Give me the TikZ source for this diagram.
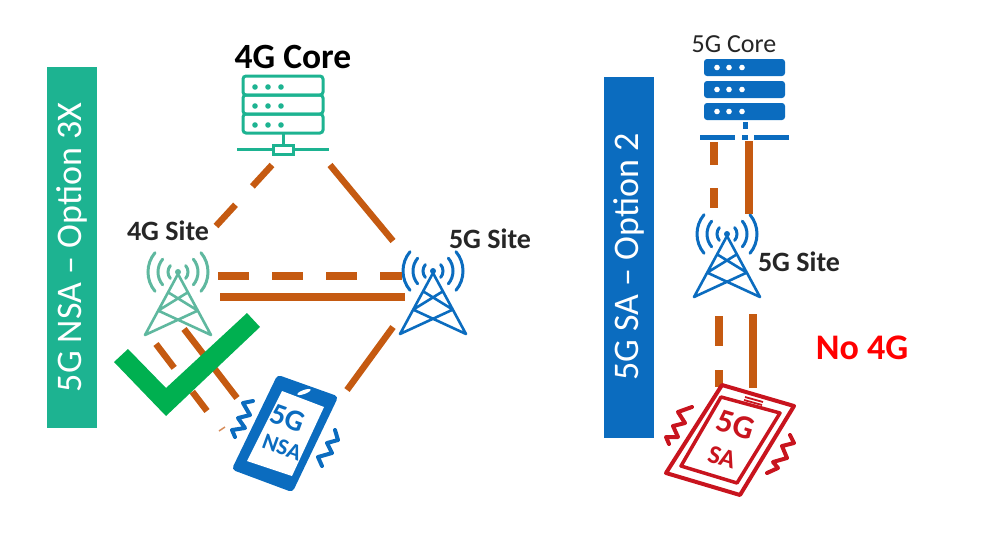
\documentclass[tikz,border=0pt]{standalone}
\usepackage{xcolor}
\usepackage{fontspec}
\setmainfont{Carlito}
\usetikzlibrary{arrows.meta,positioning}
\definecolor{linkorange}{HTML}{C55A11}
\definecolor{teal4g}{HTML}{1DB391}
\definecolor{pale4g}{HTML}{5FB89F}
\definecolor{blue5g}{HTML}{0B6CBF}
\definecolor{red5g}{HTML}{C8141E}
\definecolor{tickgreen}{HTML}{00B050}

\begin{document}
\begin{tikzpicture}[
    x=1pt, y=-1pt,
    sidebar/.style={rotate=90, minimum width=361pt, minimum height=50pt, inner sep=0pt, text=white, font=\fontsize{36}{38}\selectfont},
    bigbold/.style={inner sep=0pt, font=\bfseries\fontsize{35.5}{37}\selectfont},
    sitelabel/.style={inner sep=0pt, text=black!85, font=\bfseries\fontsize{28}{30}\selectfont},
    devtext/.style={inner sep=0pt, font=\bfseries\fontsize{#1}{#1}\selectfont},
    link/.style={draw=linkorange, line width=6.5pt},
    thicklink/.style={draw=linkorange, line width=7.5pt},
    wiggle/.style={line width=4pt, line cap=round, line join=round},
    pics/cell/.style={code={
      \foreach \r in {10,20,30} {
        \draw[#1, line width=3pt, line cap=round] (40:\r)++(0,-2) arc[start angle=40, end angle=-40, radius=\r];
        \draw[#1, line width=3pt, line cap=round] (140:\r)++(0,-2) arc[start angle=140, end angle=220, radius=\r];
      }
      \fill[#1] (0,-2) circle (3);
      \draw[#1, line width=2.6pt, line join=round, line cap=round] (-33,61) -- (0,0) -- (33,61)
        (-9.9,18.3) -- (19.8,36.6) -- (-33,61) (9.9,18.3) -- (-19.8,36.6) -- (33,61);
    }}
  ]
    \useasboundingbox (0,0) rectangle (990,555);

    % side bars
    \node[sidebar, fill=teal4g] (nsabar) at (72,247.5) {5G NSA -- Option 3X};
    \node[sidebar, fill=blue5g] (sabar) at (629,257) {5G SA -- Option 2};

    % labels
    \node[bigbold] (core4g) at (293,57) {4G Core};
    \node[sitelabel] (site4g) at (168,231) {4G Site};
    \node[sitelabel] (site5g) at (490,239) {5G Site};
    \node[sitelabel, font=\fontsize{26}{28}\selectfont] (core5g) at (734,44) {5G Core};
    \node[sitelabel] (site5gb) at (799,262) {5G Site};
    \node[bigbold, text=red, font=\bfseries\fontsize{36}{38}\selectfont] (no4g) at (862,348) {No 4G};

    % 4G core server
    \foreach \y in {76,95,114} {
      \draw[teal4g, line width=3pt, rounded corners=3pt] (243,\y) rectangle (323,\y+19);
      \foreach \x in {255,268,281} \fill[teal4g] (\x,\y+11) circle (2.8);
    }
    \draw[teal4g, line width=3pt] (283,133) -- (283,145) (237,149) -- (273,149) (293,149) -- (329,149);
    \draw[teal4g, line width=3pt] (273,145) rectangle (293,154);

    % 5G core server
    \foreach \y in {59,81,103} {
      \fill[blue5g, rounded corners=3pt] (704,\y) rectangle (785,\y+17);
      \foreach \x in {717,729,742} \fill[white] (\x,\y+8.5) circle (2.8);
    }
    \draw[blue5g, line width=5pt] (745,122) -- (745,129) (700,137) -- (735,137) (742,137) -- (748,137) (754,137) -- (789,137);

    % towers
    \pic at (178,274) {cell=pale4g};
    \pic at (433,273) {cell=blue5g};
    \pic at (727,236) {cell=blue5g};

    % link ends
    \coordinate (a1) at (272,165); \coordinate (a4) at (216,226);
    \coordinate (b1) at (330,165); \coordinate (b2) at (393,241);
    \coordinate (c1) at (218,276); \coordinate (c2) at (402,276);
    \coordinate (d1) at (220,297); \coordinate (d2) at (405,297);
    \coordinate (e1) at (393,327); \coordinate (e2) at (347,390);
    \coordinate (f1) at (184,329); \coordinate (f2) at (237,398);
    \coordinate (g1) at (156,344); \coordinate (g2) at (207,411);
    \coordinate (g3) at (219,431); \coordinate (g4) at (225,427);
    \coordinate (h1) at (714,142); \coordinate (h2) at (714,208);
    \coordinate (i1) at (749,141); \coordinate (i2) at (749,214);
    \coordinate (j1) at (719,316); \coordinate (j2) at (719,387);
    \coordinate (k1) at (753,314); \coordinate (k2) at (753,388);

    % links
    \draw[link, dash pattern=on 29pt off 25pt] (a1) -- (a4);
    \draw[link] (b1) -- (b2);
    \draw[thicklink, dash pattern=on 31pt off 23pt] (c1) -- (c2);
    \draw[thicklink] (d1) -- (d2);
    \draw[link] (e1) -- (e2);
    \draw[link] (f1) -- (f2);
    \draw[link, dash pattern=on 30pt off 30pt] (g1) -- (g2);
    \draw[linkorange!70, line width=1.5pt] (g3) -- (g4);
    \draw[thicklink, dash pattern=on 23pt off 23pt] (h1) -- (h2);
    \draw[thicklink] (i1) -- (i2);
    \draw[thicklink, dash pattern=on 30pt off 24pt] (j1) -- (j2);
    \draw[thicklink] (k1) -- (k2);

    % tick
    \fill[tickgreen] (114,362) -- (128,349) -- (166,388) -- (247,313) -- (260,327) -- (166,416) -- cycle;

    % 5G NSA phone
    \fill[blue5g, draw=blue5g, line width=2pt, rounded corners=3pt] (278,376) -- (337,397) -- (292,491) -- (233,469) -- cycle;
    \fill[white] (282,391) -- (324,407) -- (292,476) -- (247,461) -- cycle;
    \fill[white, rotate around={20:(304,392)}] (304,392) ellipse (7 and 2);
    \node[devtext=30, text=blue5g, rotate=-20] (phone5g) at (288,418) {5G};
    \node[devtext=23, text=blue5g, rotate=-20] (phonensa) at (282,447) {NSA};
    \draw[blue5g, wiggle] (253,401) -- (243,403) -- (250,415) -- (238,418) -- (245,428) -- (232,430) -- (235,437);
    \draw[blue5g, wiggle] (335,430) -- (338,440) -- (327,443) -- (332,453) -- (318,457) -- (322,466);

    % 5G SA tablet
    \draw[red5g, line width=4pt, line join=round, fill=white] (722,385) -- (794,406) -- (740,495) -- (666,473) -- cycle;
    \draw[red5g, line width=3.5pt, line join=round] (721,397) -- (780,413) -- (737,483) -- (681,466) -- cycle;
    \draw[red5g, line width=1.8pt] (745,397) -- (763,402) (744,400) -- (762,405);
    \node[devtext=33, text=red5g, rotate=-17] (tablet5g) at (736,425) {5G};
    \node[devtext=26, text=red5g, rotate=-17] (tabletsa) at (722,457) {SA};
    \draw[red5g, wiggle] (692,407) -- (678,412) -- (685,423) -- (673,426) -- (678,437) -- (666,437) -- (669,444);
    \draw[red5g, wiggle] (790,435) -- (794,443) -- (782,446) -- (787,458) -- (773,462) -- (778,468) -- (767,473);
\end{tikzpicture}
\end{document}
